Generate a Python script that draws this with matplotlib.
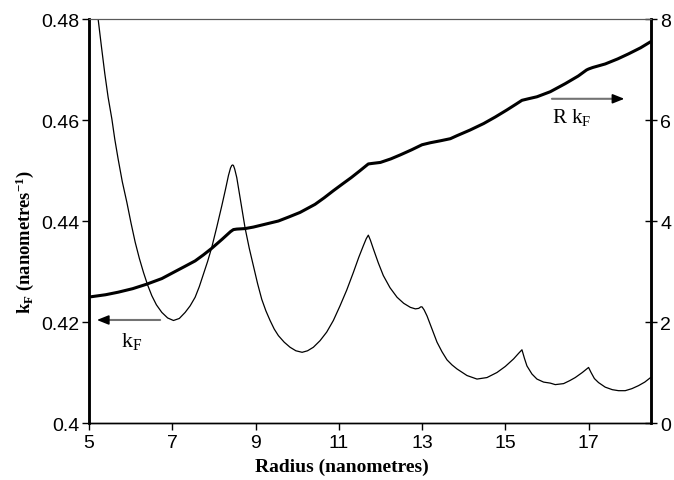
import matplotlib
matplotlib.use("Agg")
import matplotlib.pyplot as plt

# ---- data ----
radius_kf = [5.22, 5.30, 5.38, 5.46, 5.55, 5.62, 5.70, 5.80, 5.91, 6.01, 6.11, 6.21, 6.31,
             6.41, 6.51, 6.62, 6.75, 6.89, 7.03, 7.17, 7.31, 7.43, 7.55, 7.65, 7.75, 7.85,
             7.95, 8.07, 8.19, 8.28, 8.35, 8.40, 8.43, 8.45, 8.47, 8.50, 8.55, 8.65, 8.75,
             8.85, 8.95, 9.05, 9.15, 9.25, 9.35, 9.45, 9.55, 9.69, 9.83, 9.97, 10.12,
             10.25, 10.39, 10.55, 10.71, 10.87, 11.03, 11.19, 11.35, 11.48, 11.59, 11.66,
             11.71, 11.76, 11.83, 11.95, 12.07, 12.23, 12.40, 12.56, 12.72, 12.84, 12.92,
             12.97, 13.00, 13.05, 13.12, 13.24, 13.36, 13.48, 13.60, 13.72, 13.84, 14.08,
             14.32, 14.56, 14.80, 15.00, 15.20, 15.32, 15.40, 15.46, 15.52, 15.64, 15.76,
             15.92, 16.08, 16.20, 16.40, 16.55, 16.68, 16.85, 17.00, 17.06, 17.14, 17.24,
             17.40, 17.57, 17.72, 17.88, 18.04, 18.20, 18.35, 18.49]
kf = [0.4800, 0.4745, 0.4692, 0.4645, 0.4602, 0.4562, 0.4523, 0.4478, 0.4437, 0.4396,
      0.4358, 0.4326, 0.4298, 0.4273, 0.4252, 0.4234, 0.4219, 0.4208, 0.4203, 0.4207,
      0.4219, 0.4232, 0.4249, 0.4270, 0.4295, 0.4320, 0.4348, 0.4388, 0.4430, 0.4463,
      0.4490, 0.4505, 0.4510, 0.4511, 0.4510, 0.4503, 0.4486, 0.4436, 0.4386, 0.4346,
      0.4311, 0.4276, 0.4245, 0.4222, 0.4203, 0.4186, 0.4173, 0.4160, 0.4150, 0.4143,
      0.4140, 0.4143, 0.4150, 0.4163, 0.4180, 0.4203, 0.4232, 0.4263, 0.4298, 0.4328,
      0.4351, 0.4365, 0.4372, 0.4362, 0.4345, 0.4317, 0.4292, 0.4268, 0.4249, 0.4237,
      0.4229, 0.4226, 0.4227, 0.4230, 0.4230, 0.4224, 0.4212, 0.4186, 0.4160, 0.4141,
      0.4125, 0.4115, 0.4107, 0.4094, 0.4087, 0.4090, 0.4100, 0.4112, 0.4127, 0.4138,
      0.4145, 0.4128, 0.4113, 0.4097, 0.4087, 0.4081, 0.4079, 0.4076, 0.4078, 0.4084,
      0.4090, 0.4100, 0.4110, 0.4100, 0.4088, 0.4080, 0.4071, 0.4066, 0.4064, 0.4064,
      0.4068, 0.4074, 0.4081, 0.4090]

radius_rkf = [5.05, 5.40, 5.70, 6.05, 6.39, 6.75, 7.07, 7.30, 7.55, 7.75, 7.95, 8.20, 8.40,
              8.47, 8.55, 8.75, 8.95, 9.15, 9.35, 9.55, 9.80, 10.07, 10.25, 10.43, 10.65,
              10.87, 11.10, 11.30, 11.50, 11.65, 11.71, 11.80, 12.00, 12.25, 12.48, 12.75,
              12.95, 13.00, 13.10, 13.20, 13.45, 13.68, 13.84, 14.15, 14.48, 14.76, 15.04,
              15.25, 15.40, 15.55, 15.76, 16.08, 16.44, 16.75, 16.95, 17.00, 17.10, 17.40,
              17.70, 17.96, 18.25, 18.49]
rkf = [2.50, 2.54, 2.59, 2.66, 2.75, 2.86, 3.00, 3.10, 3.21, 3.33, 3.46, 3.64, 3.79,
       3.83, 3.84, 3.85, 3.88, 3.92, 3.96, 4.00, 4.08, 4.17, 4.25, 4.33, 4.46,
       4.60, 4.74, 4.86, 4.99, 5.09, 5.13, 5.14, 5.16, 5.23, 5.31, 5.41,
       5.49, 5.51, 5.53, 5.55, 5.59, 5.63, 5.69, 5.80, 5.93, 6.06, 6.20,
       6.31, 6.39, 6.42, 6.46, 6.56, 6.72, 6.87, 6.99, 7.01, 7.04, 7.11,
       7.21, 7.31, 7.43, 7.55]

x_ticks = [5, 7, 9, 11, 13, 15, 17]
left_ticks = [0.40, 0.42, 0.44, 0.46, 0.48]
left_tick_labels = ["0.4", "0.42", "0.44", "0.46", "0.48"]
right_ticks = [0, 2, 4, 6, 8]

plt.rcParams['mathtext.fontset'] = 'custom'
plt.rcParams['mathtext.rm'] = 'Liberation Serif'
plt.rcParams['mathtext.it'] = 'Liberation Serif'
plt.rcParams['mathtext.bf'] = 'Liberation Serif:bold'

fig = plt.figure(figsize=(6.74, 4.81), dpi=100)
ax = fig.add_axes([0.1320, 0.1185, 0.8339, 0.8399])
ax2 = ax.twinx()

ax.plot(radius_kf, kf, color='black', lw=0.9, solid_joinstyle='round')
ax2.plot(radius_rkf, rkf, color='black', lw=2.2, solid_joinstyle='round',
         solid_capstyle='round')

ax.set_xlim(5, 18.5)
ax.set_ylim(0.40, 0.48)
ax2.set_ylim(0, 8)

ax.set_xticks(x_ticks)
ax.set_xticklabels([str(t) for t in x_ticks])
ax.set_yticks(left_ticks)
ax.set_yticklabels(left_tick_labels)
ax2.set_yticks(right_ticks)

for lab in ax.get_xticklabels() + ax.get_yticklabels() + ax2.get_yticklabels():
    lab.set_fontfamily('Liberation Sans')
    lab.set_fontsize(14)

ax.tick_params(axis='x', direction='out', length=5, width=1, pad=3)
ax.tick_params(axis='y', direction='out', length=5, width=1, pad=2)
ax2.tick_params(axis='y', direction='inout', length=9, width=1, pad=2)

for a in (ax, ax2):
    a.spines['left'].set_linewidth(1.8)
    a.spines['right'].set_linewidth(1.8)
    a.spines['bottom'].set_linewidth(1.0)
    a.spines['top'].set_linewidth(0.8)
    a.spines['top'].set_color('0.35')

ax.set_xlabel('Radius (nanometres)', family='Liberation Serif', weight='bold',
              fontsize=14)
ax.xaxis.set_label_coords(0.45, -0.085)
ax.set_ylabel(r'k$_\mathbf{F}$ (nanometres$^\mathbf{-1}$)', family='Liberation Serif',
              weight='bold', fontsize=13.3)
ax.yaxis.set_label_coords(-0.095, 0.45)

# arrow for kF (points to left axis)
ax.annotate('', xy=(5.35, 0.4204), xytext=(6.71, 0.4204),
            arrowprops=dict(arrowstyle='-', color='0.45', lw=1.5, shrinkA=0, shrinkB=0))
ax.annotate('', xy=(5.19, 0.4204), xytext=(5.45, 0.4204),
            arrowprops=dict(arrowstyle='-|>,head_length=0.7,head_width=0.28',
                            color='black', lw=1.2, shrinkA=0, shrinkB=0))
ax.text(6.03, 0.4163, r'k$_\mathrm{F}$', family='Liberation Serif', fontsize=16,
        ha='center', va='center')

# arrow for R kF (points to right axis)
ax2.annotate('', xy=(17.70, 6.42), xytext=(16.12, 6.42),
             arrowprops=dict(arrowstyle='-', color='0.45', lw=1.5, shrinkA=0, shrinkB=0))
ax2.annotate('', xy=(17.86, 6.42), xytext=(17.60, 6.42),
             arrowprops=dict(arrowstyle='-|>,head_length=0.7,head_width=0.28',
                             color='black', lw=1.2, shrinkA=0, shrinkB=0))
ax2.text(16.12, 6.06, r'R k$_\mathrm{F}$', family='Liberation Serif', fontsize=15,
         ha='left', va='center')

fig.savefig('out.png', dpi=100)
